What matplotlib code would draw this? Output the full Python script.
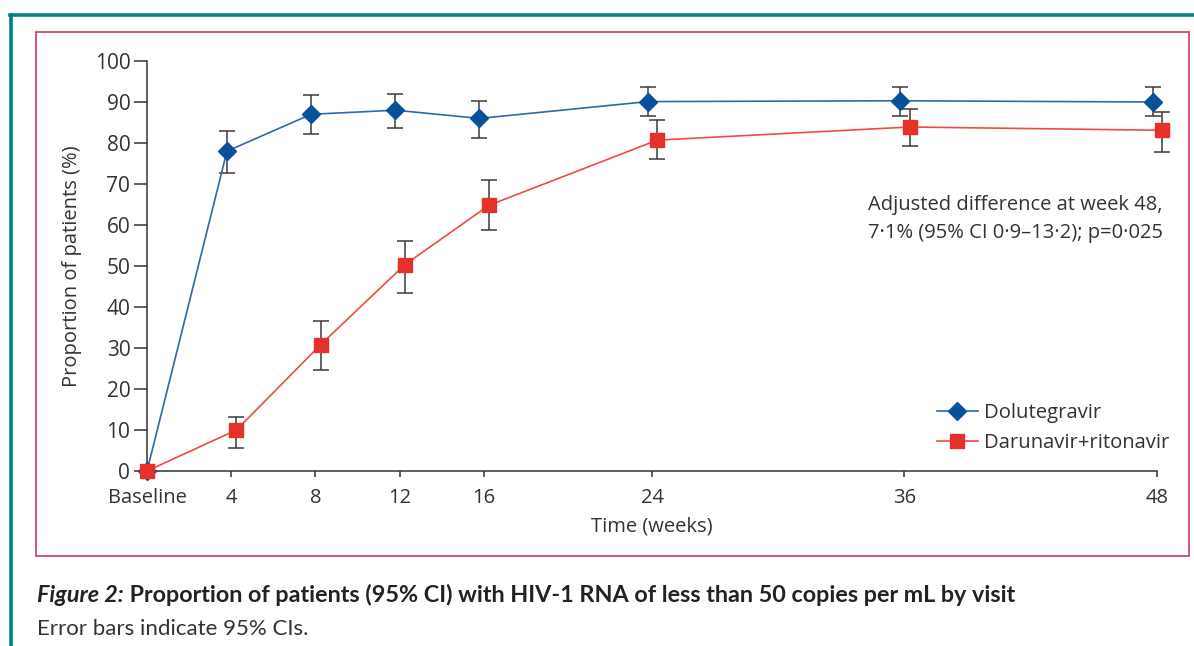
import numpy as np
import matplotlib
matplotlib.use('Agg')
import matplotlib.pyplot as plt
from matplotlib.patches import Rectangle
from matplotlib.lines import Line2D

# data
weeks = [0, 4, 8, 12, 16, 24, 36, 48]
tick_labels = ['Baseline', '4', '8', '12', '16', '24', '36', '48']

dtg = [0, 78.0, 87.0, 88.0, 86.0, 90.1, 90.3, 90.0]
dtg_lo = [0, 72.7, 82.3, 83.7, 81.2, 86.5, 86.5, 86.6]
dtg_hi = [0, 83.0, 91.6, 91.9, 90.2, 93.7, 93.7, 93.7]

drv = [0, 10.0, 30.8, 50.3, 64.8, 80.7, 83.9, 83.1]
drv_lo = [0, 5.5, 24.6, 43.3, 58.8, 76.1, 79.2, 77.8]
drv_hi = [0, 13.2, 36.7, 56.0, 70.9, 85.7, 88.2, 87.5]

W, H = 1194, 646
plt.rcParams['font.family'] = ['Open Sans', 'DejaVu Sans']
txt = '#333333'

fig = plt.figure(figsize=(W / 100, H / 100), dpi=100)

def px(x, y):
    return x / W, 1 - y / H

# outer teal frame (top + left) and pink panel box
teal = '#00837f'
fig.add_artist(Line2D([10 / W, 1.0], [1 - 15 / H] * 2, color=teal, lw=2.6, transform=fig.transFigure))
fig.add_artist(Line2D([10.5 / W] * 2, [0, 1 - 15 / H], color=teal, lw=2.6, transform=fig.transFigure))
fig.add_artist(Rectangle(px(36, 556), (1189 - 36) / W, (556 - 32) / H, transform=fig.transFigure,
                         fill=False, ec='#c94a70', lw=1.3))

x0, x1 = 147, 1157
y0, y1 = 471, 61
ax = fig.add_axes([x0 / W, 1 - y0 / H, (x1 - x0) / W, (y0 - y1) / H])
ax.set_xlim(0, 48)
ax.set_ylim(0, 100)

w = np.array(weeks, dtype=float)
xb = np.where(w > 0, w - 0.2, w)
xr = np.where(w > 0, w + 0.25, w)

def plot_series(xs, y, lo, hi, lc, mc, marker, ms, label):
    y = np.array(y)
    err = [y[1:] - np.array(lo[1:]), np.array(hi[1:]) - y[1:]]
    ax.errorbar(xs[1:], y[1:], yerr=err, fmt='none', ecolor='#3a3a3a', elinewidth=1.1,
                capsize=6, capthick=1.1, zorder=3, clip_on=False)
    ax.plot(xs, y, color=lc, lw=1.2, marker=marker, ms=ms, mfc=mc, mec=mc,
            zorder=4, clip_on=False, label=label)

plot_series(xb, dtg, dtg_lo, dtg_hi, '#2e68ae', '#0a4f9c', 'D', 9, 'Dolutegravir')
plot_series(xr, drv, drv_lo, drv_hi, '#f04a44', '#e6302a', 's', 10, 'Darunavir+ritonavir')

for s in ['top', 'right']:
    ax.spines[s].set_visible(False)
for s in ['left', 'bottom']:
    ax.spines[s].set_color('#333333')
    ax.spines[s].set_linewidth(1.1)

ax.set_yticks(range(0, 101, 10))
ax.set_xticks(weeks)
ax.set_xticklabels(tick_labels)
ax.tick_params(axis='y', length=9.5, width=1.1, color='#333333', pad=2.5, labelsize=15, labelcolor=txt)
ax.tick_params(axis='x', length=4.2, width=1.1, color='#333333', pad=8, labelsize=14.5, labelcolor=txt)

ax.set_ylabel('Proportion of patients (%)', fontsize=14.5, color=txt, labelpad=9)
ax.set_xlabel('Time (weeks)', fontsize=14.5, color=txt, labelpad=6)

fig.text(*px(868, 219), 'Adjusted difference at week 48,\n7\u00b71% (95% CI 0\u00b79\u201313\u00b72); p=0\u00b7025',
         fontsize=14.5, color=txt, ha='left', va='center', linespacing=1.5)

leg = ax.legend(loc='upper left', bbox_to_anchor=px(937, 403), bbox_transform=fig.transFigure,
                frameon=False, fontsize=14.6, handlelength=2.0, handletextpad=0.3,
                labelspacing=0.5, borderaxespad=0, borderpad=0)
for t in leg.get_texts():
    t.set_color(txt)

# caption
cap_fam = ['Lato', 'DejaVu Sans']
t1 = fig.text(*px(37, 602), 'Figure 2:', fontsize=16.8, fontweight='bold', fontstyle='italic',
              family=cap_fam, color='#222222', va='baseline')
ax.annotate(' Proportion of patients (95% CI) with HIV-1 RNA of less than 50 copies per mL by visit',
            xy=(1, 0), xycoords=t1, va='bottom', fontsize=16.8, fontweight='bold',
            family=cap_fam, color='#222222', annotation_clip=False)
fig.text(*px(37, 635), 'Error bars indicate 95% CIs.', fontsize=16, family=cap_fam,
         color='#333333', va='baseline')

fig.savefig('out.png', dpi=100)
